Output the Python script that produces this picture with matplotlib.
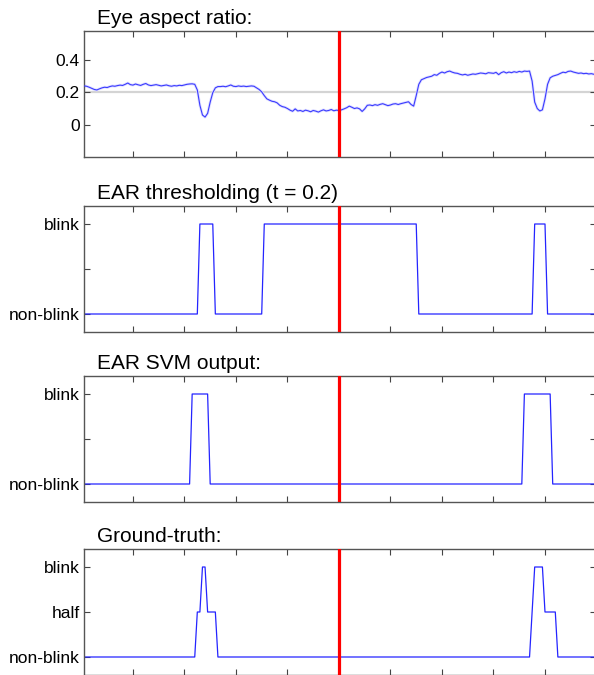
import numpy as np
import matplotlib
matplotlib.use("Agg")
import matplotlib.pyplot as plt

plt.rcParams['font.family'] = ['Liberation Sans', 'DejaVu Sans']

# frame numbers 1..200
frames = np.arange(1, 201)

# eye aspect ratio per frame
ear = [
    0.240, 0.238, 0.232, 0.225, 0.218, 0.215, 0.222, 0.228, 0.232, 0.230,
    0.236, 0.240, 0.238, 0.242, 0.245, 0.243, 0.250, 0.258, 0.248, 0.245,
    0.252, 0.247, 0.243, 0.250, 0.255, 0.246, 0.242, 0.245, 0.248, 0.244,
    0.240, 0.243, 0.246, 0.241, 0.238, 0.242, 0.240, 0.244, 0.242, 0.246,
    0.250, 0.252, 0.253, 0.250, 0.215, 0.120, 0.060, 0.047, 0.070, 0.140,
    0.198, 0.228, 0.236, 0.236, 0.238, 0.235, 0.240, 0.246, 0.238, 0.236,
    0.240, 0.237, 0.239, 0.236, 0.238, 0.240, 0.238, 0.228, 0.218, 0.203,
    0.180, 0.160, 0.152, 0.145, 0.142, 0.135, 0.120, 0.112, 0.108, 0.100,
    0.090, 0.083, 0.098, 0.085, 0.088, 0.082, 0.090, 0.086, 0.080, 0.088,
    0.084, 0.078, 0.086, 0.092, 0.085, 0.088, 0.094, 0.086, 0.090, 0.088,
    0.092, 0.098, 0.105, 0.115, 0.108, 0.100, 0.104, 0.098, 0.082, 0.098,
    0.120, 0.122, 0.118, 0.124, 0.120, 0.126, 0.130, 0.124, 0.118, 0.122,
    0.128, 0.130, 0.125, 0.130, 0.134, 0.138, 0.142, 0.125, 0.115, 0.180,
    0.250, 0.278, 0.285, 0.292, 0.296, 0.300, 0.310, 0.306, 0.318, 0.326,
    0.320, 0.328, 0.332, 0.325, 0.320, 0.318, 0.312, 0.308, 0.312, 0.306,
    0.310, 0.314, 0.312, 0.316, 0.320, 0.318, 0.315, 0.322, 0.320, 0.318,
    0.324, 0.310, 0.322, 0.328, 0.320, 0.326, 0.322, 0.328, 0.324, 0.330,
    0.326, 0.332, 0.330, 0.332, 0.270, 0.140, 0.100, 0.085, 0.092, 0.160,
    0.250, 0.290, 0.300, 0.305, 0.310, 0.318, 0.325, 0.322, 0.330, 0.332,
    0.326, 0.322, 0.318, 0.320, 0.316, 0.318, 0.314, 0.316, 0.312, 0.314,
]
ear_threshold = 0.2

# blink intervals (first frame, last frame)
thresh_blinks = [(46, 51), (71, 130), (176, 180)]
svm_blinks = [(43, 49), (172, 182)]

# ground truth: non-zero frames and their values
gt_frames = [45, 46, 47, 48, 49, 50, 51, 52,
             175, 176, 177, 178, 179, 180, 181, 182, 183, 184]
gt_values = [0.5, 0.5, 1, 1, 0.5, 0.5, 0.5, 0.5,
             0.5, 1, 1, 1, 1, 0.5, 0.5, 0.5, 0.5, 0.5]

current_frame = 100
titles = ['Eye aspect ratio:', 'EAR thresholding (t = 0.2)',
          'EAR SVM output:', 'Ground-truth:']


def blink_series(intervals):
    s = np.zeros(len(frames))
    for a, b in intervals:
        s[(frames >= a) & (frames <= b)] = 1
    return s


thresh = blink_series(thresh_blinks)
svm = blink_series(svm_blinks)
gt = np.zeros(len(frames))
for f, v in zip(gt_frames, gt_values):
    gt[f - 1] = v

W, H = 594, 675
fig = plt.figure(figsize=(W / 100, H / 100), dpi=100)

# axes boxes in pixels: (top, bottom)
boxes = [(31, 157), (206, 332), (376, 502), (549, 675)]
x0, x1 = 84, 596.5

blue = '#2424ff'
axes = []
for (top, bot) in boxes:
    ax = fig.add_axes([x0 / W, 1 - bot / H, (x1 - x0) / W, (bot - top) / H])
    axes.append(ax)

for ax, t in zip(axes, titles):
    ax.set_xlim(1, 200)
    ax.set_xticks(np.arange(20, 201, 20))
    ax.set_xticklabels([])
    ax.tick_params(direction='in', top=True, right=True, length=4,
                   width=0.8, color='#444444', labelsize=12.5, pad=3)
    for sp in ax.spines.values():
        sp.set_color('#555555')
        sp.set_linewidth(1.0)
    ax.axvline(current_frame, color='#ff0000', lw=2.3, zorder=5)
    ax.text(0.025, 1 + 7 / 126, t, transform=ax.transAxes, fontsize=15,
            ha='left', va='baseline')

# eye aspect ratio
ax = axes[0]
ax.axhline(ear_threshold, color='#d4d4d4', lw=1.6, zorder=1)
ax.plot(frames, ear, color='#e0e0ff', lw=2.0, zorder=2)
ax.plot(frames, ear, color='#3a3aff', lw=0.8, zorder=3)
ax.set_ylim(-0.2, 0.58)
ax.set_yticks([0, 0.2, 0.4])
ax.set_yticklabels(['0', '0.2', '0.4'])

for ax, s in zip(axes[1:3], [thresh, svm]):
    ax.plot(frames, s, color=blue, lw=0.9)
    ax.set_ylim(-0.2, 1.2)
    ax.set_yticks([0, 0.5, 1])
    ax.set_yticklabels(['non-blink', '', 'blink'])

ax = axes[3]
ax.plot(frames, gt, color=blue, lw=0.9)
ax.set_ylim(-0.2, 1.2)
ax.set_yticks([0, 0.5, 1])
ax.set_yticklabels(['non-blink', 'half', 'blink'])

fig.savefig('out.png', dpi=100)
